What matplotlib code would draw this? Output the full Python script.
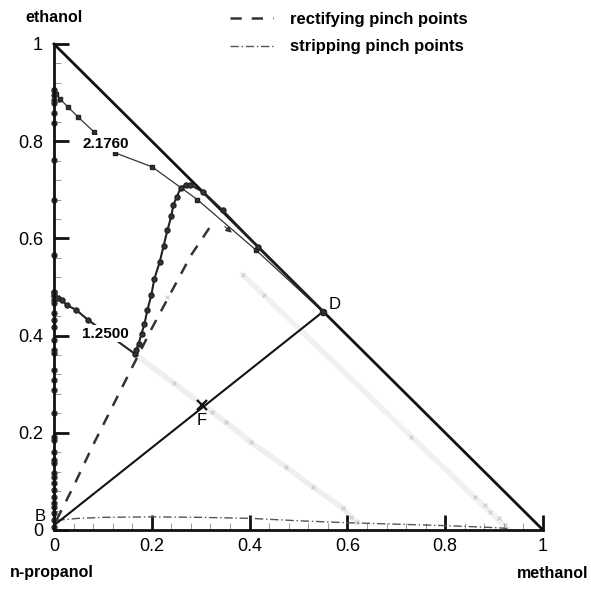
import numpy as np
import matplotlib.pyplot as plt

plt.rcParams['font.family'] = ['Liberation Sans', 'DejaVu Sans']

# rectifying pinch point curve (dashed)
rect_x = [0.005, 0.04, 0.08, 0.12, 0.16, 0.20, 0.24, 0.28, 0.32]
rect_y = [0.02, 0.09, 0.175, 0.255, 0.335, 0.415, 0.49, 0.565, 0.625]

# stripping pinch point curve (dash-dot)
strip_x = [0.005, 0.05, 0.1, 0.2, 0.3, 0.4, 0.5, 0.6, 0.7, 0.8, 0.9, 0.93]
strip_y = [0.02, 0.024, 0.026, 0.027, 0.026, 0.024, 0.019, 0.015, 0.012, 0.009, 0.005, 0.003]

# profile for reflux 2.1760
r1_x = [0.0, 0.004, 0.012, 0.029, 0.049, 0.082, 0.125, 0.201, 0.293, 0.413, 0.550]
r1_y = [0.905, 0.898, 0.887, 0.870, 0.850, 0.819, 0.776, 0.747, 0.680, 0.576, 0.449]

# profile for reflux 1.2500
r2_x = [0.0, 0.0, 0.008, 0.016, 0.026, 0.045, 0.070, 0.166, 0.168, 0.173, 0.179,
        0.185, 0.191, 0.199, 0.205, 0.216, 0.224, 0.232, 0.240, 0.244, 0.251,
        0.259, 0.269, 0.279, 0.304, 0.345, 0.417, 0.550]
r2_y = [0.490, 0.483, 0.478, 0.473, 0.463, 0.453, 0.432, 0.362, 0.370, 0.383, 0.404,
        0.424, 0.453, 0.483, 0.516, 0.551, 0.584, 0.617, 0.646, 0.669, 0.685,
        0.704, 0.710, 0.710, 0.696, 0.658, 0.582, 0.449]

# stage compositions sitting on the ethanol / n-propanol edge
edge_y = [0.905, 0.895, 0.885, 0.879, 0.858, 0.837, 0.761, 0.679, 0.566,
          0.490, 0.481, 0.473, 0.467, 0.447, 0.432, 0.418, 0.391, 0.370, 0.364,
          0.329, 0.309, 0.288, 0.241, 0.191, 0.185, 0.160, 0.144, 0.138, 0.117,
          0.109, 0.097, 0.082, 0.068, 0.056, 0.047, 0.035, 0.021, 0.006]

# faint trajectories
faint1_x = [0.166, 0.245, 0.324, 0.351, 0.402, 0.474, 0.530, 0.591, 0.607, 0.620]
faint1_y = [0.362, 0.302, 0.243, 0.222, 0.181, 0.130, 0.088, 0.045, 0.027, 0.016]
faint2_x = [0.386, 0.429, 0.731, 0.860, 0.881, 0.891, 0.909, 0.922]
faint2_y = [0.525, 0.484, 0.191, 0.068, 0.051, 0.037, 0.025, 0.010]

# feed, distillate, bottoms
B = (0.003, 0.012)
F = (0.303, 0.257)
D = (0.550, 0.449)

fig = plt.figure(figsize=(5.91, 5.89), dpi=100)
ax = fig.add_axes([54 / 591, 1 - 530 / 589, 489 / 591, 486 / 589])
ax.set_xlim(0, 1)
ax.set_ylim(0, 1)

# triangle hypotenuse
ax.plot([0, 1], [1, 0], color='#111111', lw=2, clip_on=False)

# faint lines
ax.plot(faint1_x, faint1_y, color='#efefef', lw=4, zorder=1)
ax.plot(faint1_x[1:], faint1_y[1:], 'x', color='#c4c4c4', ms=3.5, mew=0.7, zorder=1)
ax.plot([faint2_x[0], 0.93], [faint2_y[0], 0.0], color='#f1f1f1', lw=4, zorder=1)
ax.plot(faint2_x, faint2_y, 'x', color='#c4c4c4', ms=3.5, mew=0.7, zorder=1)
ax.plot([0.232], [0.479], 'x', color='#c4c4c4', ms=3.5, mew=0.7, zorder=1)

rect_line, = ax.plot(rect_x, rect_y, color='#333333', lw=1.8, dashes=(4.5, 4))
strip_line, = ax.plot(strip_x, strip_y, color='#555555', lw=1.0, dashes=(6, 2, 1, 2))

# column line B - F - D
ax.plot([B[0], D[0]], [B[1], D[1]], color='#111111', lw=1.5)
ax.plot(*F, 'x', color='#111111', ms=7, mew=1.6)
ax.plot(*D, 'o', color='#333333', ms=4.5)

ax.plot(r1_x, r1_y, color='#333333', lw=0.9, marker='s', ms=3,
        markerfacecolor='#333333', markeredgecolor='#222222', clip_on=False)
ax.plot(r2_x, r2_y, color='#222222', lw=1.5, marker='o', ms=3.6,
        markerfacecolor='#333333', markeredgecolor='#222222', clip_on=False)
ax.plot(np.zeros(len(edge_y)), edge_y, 'o', color='#333333', ms=3.6, clip_on=False)

ax.annotate('', xy=(0.368, 0.608), xytext=(0.345, 0.628),
            arrowprops=dict(arrowstyle='-|>', color='#333333', lw=0.8, mutation_scale=9))

bbox = dict(facecolor='white', edgecolor='none', pad=1)
ax.text(0.106, 0.795, '2.1760', fontsize=11, fontweight='bold', ha='center', va='center', bbox=bbox)
ax.text(0.105, 0.404, '1.2500', fontsize=11, fontweight='bold', ha='center', va='center', bbox=bbox)
ax.text(0.303, 0.226, 'F', fontsize=12, ha='center', va='center')
ax.text(0.573, 0.463, 'D', fontsize=12, ha='center', va='center')
ax.text(-0.029, 0.027, 'B', fontsize=12, ha='center', va='center')

# axes styling
for s in ['top', 'right']:
    ax.spines[s].set_visible(False)
for s in ['left', 'bottom']:
    ax.spines[s].set_linewidth(2)
    ax.spines[s].set_color('#111111')

ticks = [0, 0.2, 0.4, 0.6, 0.8, 1]
ax.set_xticks(ticks)
ax.set_yticks(ticks)
ax.set_xticklabels(['0', '0.2', '0.4', '0.6', '0.8', '1'])
ax.set_yticklabels(['0', '0.2', '0.4', '0.6', '0.8', '1'])
ax.set_xticks(np.arange(0, 1.001, 0.04), minor=True)
ax.set_yticks(np.arange(0, 1.001, 0.04), minor=True)
ax.tick_params(which='major', direction='in', length=11, width=2, labelsize=13, color='#111111')
ax.tick_params(axis='y', which='major', pad=8)
ax.tick_params(axis='x', which='major', pad=6)
ax.tick_params(which='minor', direction='in', length=5, width=0.7, color='#999999')

fig.text(25 / 591, 1 - 18 / 589, 'ethanol', fontsize=11.5, fontweight='bold', va='center')
fig.text(10 / 591, 1 - 573 / 589, 'n-propanol', fontsize=11.5, fontweight='bold', va='center')
fig.text(517 / 591, 1 - 573 / 589, 'methanol', fontsize=11.5, fontweight='bold', va='center')

ax.legend([rect_line, strip_line], ['rectifying pinch points', 'stripping pinch points'],
          loc='upper left', bbox_to_anchor=(230 / 591, 1 - 12 / 589),
          bbox_transform=fig.transFigure, frameon=False,
          prop=dict(size=12, weight='bold'), handlelength=2.6, handletextpad=1.0,
          borderpad=0, borderaxespad=0, labelspacing=0.75)

fig.savefig('out.png', dpi=100)
